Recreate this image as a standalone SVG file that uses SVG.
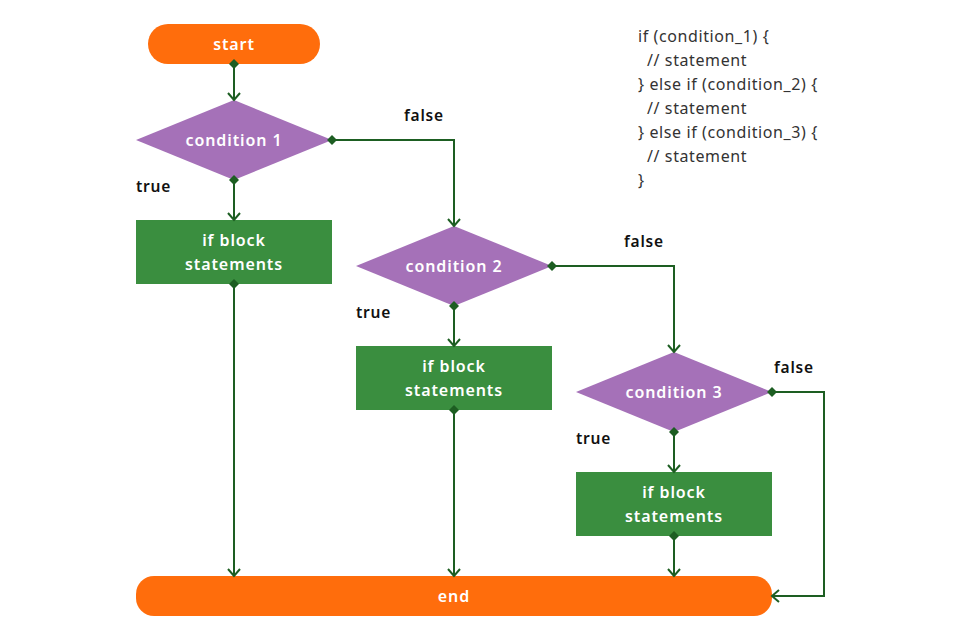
<svg xmlns="http://www.w3.org/2000/svg" width="960" height="640" viewBox="0 0 960 640">
<defs>
<marker id="dia" viewBox="-6 -6 12 12" markerWidth="12" markerHeight="12" refX="0" refY="0" orient="auto" markerUnits="userSpaceOnUse">
<path d="M-5,0 L0,-5 L5,0 L0,5 Z" fill="#1d5e22"/>
</marker>
<marker id="arr" viewBox="-10 -7 12 14" markerWidth="12" markerHeight="14" refX="0" refY="0" orient="auto" markerUnits="userSpaceOnUse">
<path d="M-7,-6 L0,0 L-7,6" fill="none" stroke="#1d5e22" stroke-width="2"/>
</marker>
<style>
.term{fill:#ff6d0c}
.dec{fill:#a571b8}
.blk{fill:#3a8e3f}
.nt{font-family:"Noto Sans","Open Sans",sans-serif;font-size:16px;font-weight:600;letter-spacing:0.9px;fill:#ffffff;text-anchor:middle;dominant-baseline:central}
.lbl{font-family:"Noto Sans","Open Sans",sans-serif;font-size:15.5px;font-weight:600;letter-spacing:0.8px;fill:#111111}
.code{font-family:"Noto Sans","Open Sans",sans-serif;font-size:16px;letter-spacing:0.6px;fill:#333333;dominant-baseline:central}
.c{fill:none;stroke:#1d5e22;stroke-width:2;marker-start:url(#dia);marker-end:url(#arr)}
</style>
</defs>
<g id="start"><rect class="term" x="148" y="24" width="172" height="40" rx="20"/><text class="nt" x="234" y="44">start</text></g>
<g id="cond1"><polygon class="dec" points="136,140 234,100 332,140 234,180"/><text class="nt" x="234" y="140">condition 1</text></g>
<g id="block1"><rect class="blk" x="136" y="220" width="196" height="64"/><text class="nt" x="234" y="240">if block</text><text class="nt" x="234" y="264">statements</text></g>
<g id="cond2"><polygon class="dec" points="356,266 454,226 552,266 454,306"/><text class="nt" x="454" y="266">condition 2</text></g>
<g id="block2"><rect class="blk" x="356" y="346" width="196" height="64"/><text class="nt" x="454" y="366">if block</text><text class="nt" x="454" y="390">statements</text></g>
<g id="cond3"><polygon class="dec" points="576,392 674,352 772,392 674,432"/><text class="nt" x="674" y="392">condition 3</text></g>
<g id="block3"><rect class="blk" x="576" y="472" width="196" height="64"/><text class="nt" x="674" y="492">if block</text><text class="nt" x="674" y="516">statements</text></g>
<g id="end"><rect class="term" x="136" y="576" width="636" height="40" rx="18"/><text class="nt" x="454" y="596">end</text></g>
<g id="connectors">
<path class="c" d="M234,64 L234,100"/>
<path class="c" d="M332,140 L454,140 L454,226"/>
<path class="c" d="M234,180 L234,220"/>
<path class="c" d="M234,284 L234,576"/>
<path class="c" d="M552,266 L674,266 L674,352"/>
<path class="c" d="M454,306 L454,346"/>
<path class="c" d="M454,410 L454,576"/>
<path class="c" d="M772,392 L824,392 L824,596 L772,596"/>
<path class="c" d="M674,432 L674,472"/>
<path class="c" d="M674,536 L674,576"/>
</g>
<g id="labels">
<text class="lbl" x="404" y="121">false</text>
<text class="lbl" x="136" y="192">true</text>
<text class="lbl" x="624" y="247">false</text>
<text class="lbl" x="356" y="318">true</text>
<text class="lbl" x="774" y="373">false</text>
<text class="lbl" x="576" y="444">true</text>
</g>
<g id="code">
<text class="code" x="638" y="36">if (condition_1) {</text>
<text class="code" x="647" y="60">// statement</text>
<text class="code" x="638" y="84">} else if (condition_2) {</text>
<text class="code" x="647" y="108">// statement</text>
<text class="code" x="638" y="132">} else if (condition_3) {</text>
<text class="code" x="647" y="156">// statement</text>
<text class="code" x="638" y="180">}</text>
</g>
</svg>
